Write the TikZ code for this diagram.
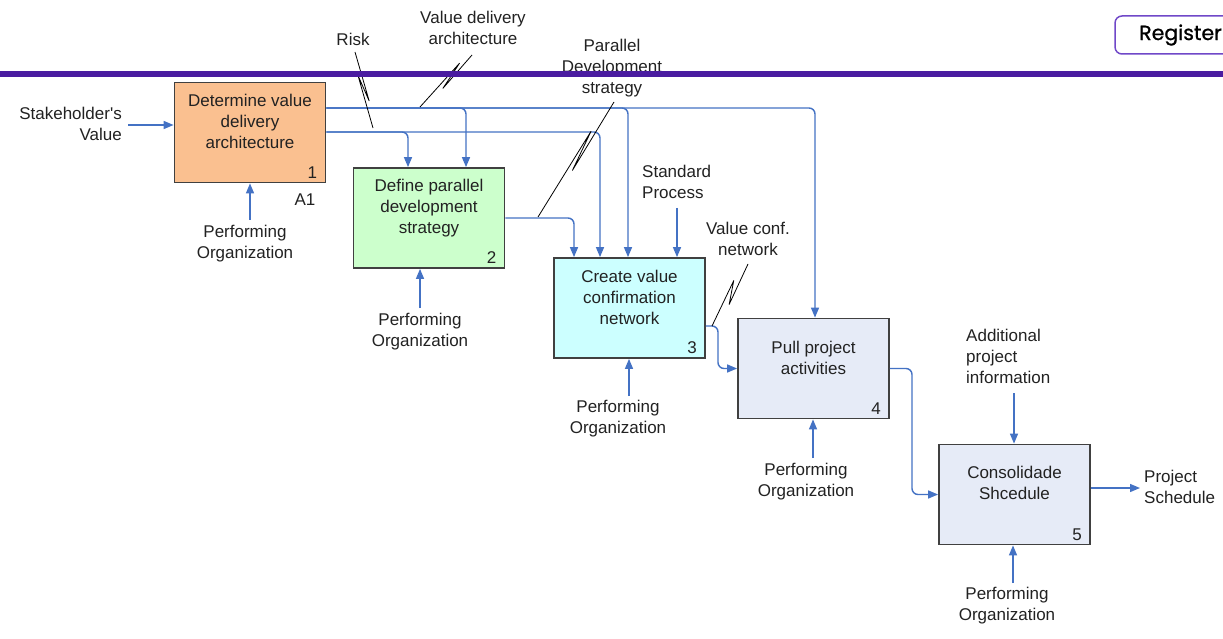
\documentclass[tikz,border=0pt]{standalone}
\usepackage{fontspec}
\setmainfont{Liberation Sans}[Ligatures=TeXOff]
\newfontfamily\btnfont{Poppins}[FakeBold=0.9]
\usetikzlibrary{arrows.meta,calc}
\definecolor{flowblue}{HTML}{4472C4}
\definecolor{boxedge}{HTML}{404040}
\definecolor{fillA}{HTML}{FAC090}
\definecolor{fillB}{HTML}{CCFFCC}
\definecolor{fillC}{HTML}{CCFFFF}
\definecolor{fillD}{HTML}{E6EBF7}
\definecolor{barpurple}{HTML}{4A1CA0}
\definecolor{btnpurple}{HTML}{7048C8}
\definecolor{txt}{HTML}{222222}
\newcommand\zigline[5]{\draw[squig] (#1) -- ($(#1)!#4!(#2)!#5!90:(#2)$) -- ($(#1)!#3!(#2)!#5!-90:(#2)$) -- (#2);}
\begin{document}
\begin{tikzpicture}[x=1pt,y=-1pt,
  every node/.style={text=txt, font=\fontsize{17}{21}\selectfont},
  box/.style={draw=boxedge, line width=1.8pt, minimum width=151pt, minimum height=100pt, inner sep=0pt},
  boxtext/.style={anchor=north, align=center, inner sep=0pt},
  numtext/.style={anchor=south east, inner sep=0pt},
  lbl/.style={align=center, inner sep=0pt},
  flow/.style={draw=flowblue, line width=1.4pt, rounded corners=6pt, -{Triangle[length=10pt,width=8pt]}},
  squig/.style={draw=black, line width=0.8pt, line join=round}
]
\useasboundingbox (0,0) rectangle (1223,639);
\fill[white] (0,0) rectangle (1223,639);

% boxes
\node[box, fill=fillA] (b1) at (250,132.5) {};
\node[box, fill=fillB] (b2) at (429,218) {};
\node[box, fill=fillC] (b3) at (629.5,308) {};
\node[box, fill=fillD] (b4) at (813.5,368.5) {};
\node[box, fill=fillD] (b5) at (1014.5,494.5) {};

\node[boxtext] (t1) at ([yshift=-12pt]b1.north) {Determine value\\delivery\\architecture};
\node[boxtext] (t2) at ([yshift=-12pt]b2.north) {Define parallel\\development\\strategy};
\node[boxtext] (t3) at ([yshift=-13pt]b3.north) {Create value\\confirmation\\network};
\node[boxtext] (t4) at ([yshift=-23pt]b4.north) {Pull project\\activities};
\node[boxtext] (t5) at ([yshift=-22pt]b5.north) {Consolidade\\Shcedule};

\node[numtext] (n1) at ([xshift=-9pt,yshift=5pt]b1.south east) {1};
\node[numtext] (n2) at ([xshift=-9pt,yshift=5pt]b2.south east) {2};
\node[numtext] (n3) at ([xshift=-9pt,yshift=5pt]b3.south east) {3};
\node[numtext] (n4) at ([xshift=-9pt,yshift=5pt]b4.south east) {4};
\node[numtext] (n5) at ([xshift=-9pt,yshift=5pt]b5.south east) {5};
\node[lbl] (a1) at (305,200) {A1};

% labels
\node[lbl, align=right, anchor=east] (sv) at (122,123.5) {Stakeholder's\\Value};
\node[lbl] (po1) at (245,243.5) {Performing\\Organization};
\node[lbl] (po2) at (420,331.5) {Performing\\Organization};
\node[lbl] (po3) at (618,418.5) {Performing\\Organization};
\node[lbl] (po4) at (806,481.5) {Performing\\Organization};
\node[lbl] (po5) at (1007,606) {Performing\\Organization};
\node[lbl] (risk) at (353,39) {Risk};
\node[lbl] (vda) at (473,28) {Value delivery\\architecture};
\node[lbl] (pds) at (612,68) {Parallel\\Development\\strategy};
\node[lbl, align=left, anchor=west] (sp) at (642,181.5) {Standard\\Process};
\node[lbl] (vcn) at (748,238.5) {Value conf.\\network};
\node[lbl, align=left, anchor=west] (api) at (966,356) {Additional\\project\\information};
\node[lbl, align=left, anchor=west] (ps) at (1144,486.5) {Project\\Schedule};

% free ends
\coordinate (svE) at (128,125);
\coordinate (po1E) at (250,220);
\coordinate (po2E) at (420,308);
\coordinate (po3E) at (629,396);
\coordinate (po4E) at (813,458);
\coordinate (po5E) at (1013,583);
\coordinate (spE) at (677,208);
\coordinate (apiE) at (1014,393);
\coordinate (psE) at (1140,488);

% inputs / mechanisms
\draw[flow] (svE) -- (svE -| b1.west);
\draw[flow] (po1E) -- (po1E |- b1.south);
\draw[flow] (po2E) -- (po2E |- b2.south);
\draw[flow] (po3E) -- (po3E |- b3.south);
\draw[flow] (po4E) -- (po4E |- b4.south);
\draw[flow] (po5E) -- (po5E |- b5.south);
\draw[flow] (spE) -- (spE |- b3.north);
\draw[flow] (apiE) -- (apiE |- b5.north);

% outputs of box 1
\draw[flow] (b1.east |- 0,108) -| (466,0 |- b2.north);
\draw[flow] (b1.east |- 0,108) -| (628,0 |- b3.north);
\draw[flow] (b1.east |- 0,108) -| (815,0 |- b4.north);
\draw[flow] (b1.east |- 0,132) -| (408,0 |- b2.north);
\draw[flow] (b1.east |- 0,132) -| (600,0 |- b3.north);

% other outputs
\draw[flow] (b2.east) -| (574,0 |- b3.north);
\draw[flow] (b3.east |- 0,326) -| (718,0 |- b4.west) -- (b4.west);
\draw[flow] (b4.east) -| (912,0 |- b5.west) -- (b5.west);
\draw[flow] (b5.east |- psE) -- (psE);

% squiggle label lines
\coordinate (rA) at (355,52);  \coordinate (rB) at (373,128);
\coordinate (vA) at (472,55);  \coordinate (vB) at (420,107);
\coordinate (pA) at (614,102); \coordinate (pB) at (538,217);
\coordinate (cA) at (748,264); \coordinate (cB) at (712,326);
\zigline{rA}{rB}{0.3}{0.65}{2.5pt}
\zigline{vA}{vB}{0.2}{0.6}{3pt}
\zigline{pA}{pB}{0.27}{0.58}{3pt}
\zigline{cA}{cB}{0.3}{0.62}{4pt}

% page chrome
\fill[barpurple] (0,71) rectangle (1223,77);
\draw[btnpurple, line width=1.5pt, rounded corners=7pt] (1115,16) rectangle (1250,54);
\node[anchor=west, inner sep=0pt, text=black, font=\btnfont\fontsize{20.5}{22}\selectfont] (reg) at (1139,35) {Register};
\end{tikzpicture}
\end{document}
